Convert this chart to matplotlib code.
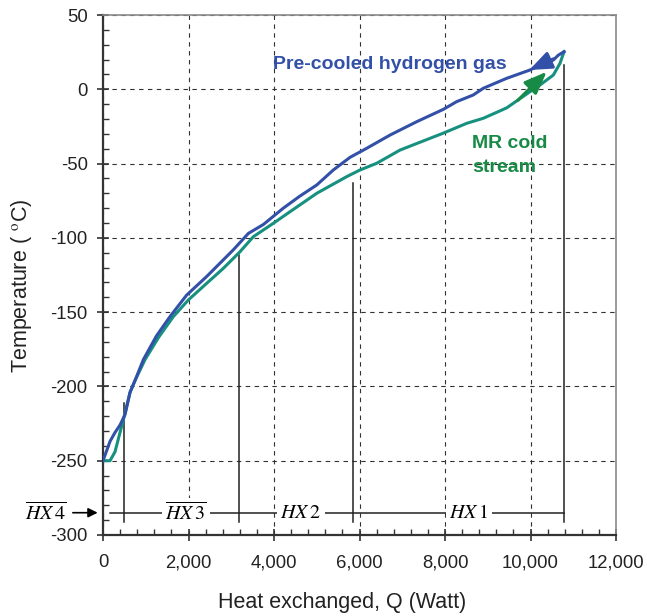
import matplotlib
matplotlib.use("Agg")
import matplotlib.pyplot as plt
from matplotlib.ticker import MultipleLocator, FuncFormatter

plt.rcParams["font.family"] = ["Liberation Sans", "DejaVu Sans"]
plt.rcParams["mathtext.fontset"] = "stix"
plt.rcParams["axes.unicode_minus"] = False

# hot stream: pre-cooled hydrogen gas
q_hot = [0, 164, 281, 398, 515, 632, 749, 943, 1250, 1567, 1957, 2425, 3050, 3400,
         3751, 4218, 4600, 5000, 5388, 5778, 6168, 6714, 7338, 7960, 8273, 8662,
         8896, 9287, 9443, 9988, 10222, 10534, 10651, 10784]
t_hot = [-250, -237, -231, -226, -219, -204, -196, -182, -166, -153, -138.5, -126,
         -108, -97, -91, -80, -72, -64.4, -54.3, -45.8, -39.7, -30.8, -21.8, -13.5,
         -8.3, -3.8, 0.7, 5.5, 7.4, 13, 16.4, 19.7, 23, 25.3]

# cold stream: mixed refrigerant
q_cold = [0, 164, 281, 398, 515, 632, 749, 982, 1300, 1645, 1996, 2425, 2815, 3205,
          3517, 3984, 4374, 5000, 5700, 6012, 6402, 6947, 7960, 8507, 8896, 9443,
          9988, 10222, 10534, 10690, 10784]
t_cold = [-250, -250, -244, -231, -218, -204, -196, -182, -167, -153, -141.8, -130.6,
          -120.5, -109.3, -99.2, -90.2, -82.4, -70, -58.8, -54.3, -49.8, -40.9, -29.5,
          -22.9, -19.5, -12.5, -1.6, 2.9, 9.6, 17.5, 25.3]

# heat exchanger boundaries
hx_q = [500, 3170, 5840, 10780]
hx_top = [-211, -111.5, -62.9, 16.4]
hx_names = [r"$\overline{HX\,4}$", r"$\overline{HX\,3}$", r"$HX\,2$", r"$HX\,1$"]
hx_label_q = [-1340, 1940, 4630, 8560]
hx_level = -285

blue = "#3350a8"
teal = "#16907f"
green = "#178b45"

fig = plt.figure(figsize=(6.47, 6.16), dpi=100)
ax = fig.add_axes([0.1592, 0.1315, 0.7929, 0.8441])

ax.plot(q_cold, t_cold, color=teal, lw=2.2, zorder=4)
ax.plot(q_hot, t_hot, color=blue, lw=2.2, zorder=5)

# flow direction arrow heads
head = "-|>,head_length=0.68,head_width=0.27"
ax.annotate("", xy=(9972, 13), xytext=(10534, 20.5), zorder=6,
            arrowprops=dict(arrowstyle=head, color=blue, lw=2.2, mutation_scale=20,
                            shrinkA=0, shrinkB=0))
ax.annotate("", xy=(10378, 11.8), xytext=(9700, -7.5), zorder=6,
            arrowprops=dict(arrowstyle=head, color=green, lw=2.2, mutation_scale=20,
                            shrinkA=0, shrinkB=0))

ax.text(3986, 13.7, "Pre-cooled hydrogen gas", color=blue, fontsize=14,
        fontweight="bold", va="baseline", ha="left")
ax.text(8639, -39.7, "MR cold", color=green, fontsize=14,
        fontweight="bold", va="baseline", ha="left")
ax.text(8639, -55.5, "stream", color=green, fontsize=14,
        fontweight="bold", va="baseline", ha="left")

# heat exchanger sections
for q, top in zip(hx_q, hx_top):
    ax.plot([q, q], [-291, top], color="#222222", lw=1.1, zorder=3)
ax.plot([164, hx_q[-1]], [hx_level, hx_level], color="#222222", lw=1.1, zorder=3)
for q, name in zip(hx_label_q[1:], hx_names[1:]):
    ax.text(q, hx_level, name, fontsize=14.5, ha="center", va="center", zorder=4,
            bbox=dict(facecolor="white", edgecolor="none", pad=2.5))
ax.text(hx_label_q[0], hx_level, hx_names[0], fontsize=14.5, ha="center", va="center",
        clip_on=False)
ax.annotate("", xy=(-60, hx_level), xytext=(-770, hx_level), annotation_clip=False,
            arrowprops=dict(arrowstyle="-|>", color="black", lw=1.2, mutation_scale=14))

ax.set_xlim(0, 12000)
ax.set_ylim(-300, 50)
ax.xaxis.set_major_locator(MultipleLocator(2000))
ax.xaxis.set_minor_locator(MultipleLocator(400))
ax.yaxis.set_major_locator(MultipleLocator(50))
ax.yaxis.set_minor_locator(MultipleLocator(10))
ax.xaxis.set_major_formatter(FuncFormatter(lambda v, p: f"{int(v):,}"))
ax.tick_params(which="major", direction="inout", length=8, width=1.2,
               labelsize=13.3, color="#333333", labelcolor="#222222")
ax.tick_params(which="minor", direction="in", length=4, width=1, color="#333333")
ax.tick_params(axis="x", which="major", pad=10)
ax.tick_params(axis="y", which="major", pad=7)

ax.grid(True, which="major", color="#333333", ls=(0, (4, 4)), lw=0.8)

for s in ["left", "bottom"]:
    ax.spines[s].set_color("#333333")
    ax.spines[s].set_linewidth(1.6)
for s in ["top", "right"]:
    ax.spines[s].set_color("#8a8a8a")
    ax.spines[s].set_linewidth(1.2)

ax.set_xlabel("Heat exchanged, Q (Watt)", fontsize=15.5, color="#222222")
ax.set_ylabel(r"Temperature ( $^{\mathrm{o}}$C)", fontsize=15.5, color="#222222")
ax.xaxis.set_label_coords(0.466, -0.11)
ax.yaxis.set_label_coords(-0.1345, 0.48)

fig.savefig("out.png", dpi=100)
